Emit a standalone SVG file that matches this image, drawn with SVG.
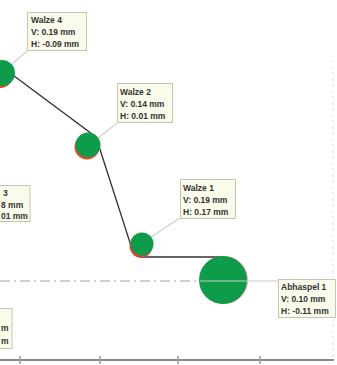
<svg xmlns="http://www.w3.org/2000/svg" width="337" height="365" viewBox="0 0 337 365">
<style>
.lbl{fill:#fbfbec;stroke:#c4c4b4;stroke-width:1}
.t{font-family:"Liberation Sans",Arial,sans-serif;font-size:8.5px;font-weight:bold;fill:#333}
.lead{stroke:#cfcfcf;stroke-width:1.2;fill:none}
.g{fill:#0e9c4a}
.r{fill:#e8432e}
</style>
<rect width="337" height="365" fill="#ffffff"/>
<g id="grid">
<line x1="333" y1="60" x2="333" y2="358" stroke="#e2e2e2" stroke-width="1" stroke-dasharray="3 3"/>
<line x1="0" y1="360" x2="334" y2="360" stroke="#8a8a8a" stroke-width="2"/>
<g stroke="#9a9a9a" stroke-width="1.5">
<line x1="20" y1="356" x2="20" y2="364"/>
<line x1="100" y1="356" x2="100" y2="364"/>
<line x1="178" y1="356" x2="178" y2="364"/>
<line x1="260" y1="356" x2="260" y2="364"/>
</g>
</g>
<g id="connectors">
<line class="lead" x1="10" y1="66" x2="28" y2="50"/>
<line class="lead" x1="97" y1="139" x2="117" y2="123"/>
<line class="lead" x1="148" y1="239" x2="180" y2="218"/>
<path d="M2,67 L96,137 L133,252 Q135,257 141,257 L222,257" fill="none" stroke="#333" stroke-width="1.3"/>
</g>
<g id="walze4">
<circle class="r" cx="0" cy="75" r="13"/>
<circle class="g" cx="2" cy="73" r="13"/>
<rect class="lbl" x="27.500" y="12.500" width="59" height="38"/>
<text class="t" x="31" y="23">Walze 4</text>
<text class="t" x="31" y="35">V: 0.19 mm</text>
<text class="t" x="31" y="47">H: -0.09 mm</text>
</g>
<g id="walze2">
<circle class="r" cx="87" cy="147" r="12.500"/>
<circle class="g" cx="88" cy="145" r="12.500"/>
<rect class="lbl" x="117.500" y="83.500" width="55" height="39"/>
<text class="t" x="120" y="95">Walze 2</text>
<text class="t" x="120" y="107">V: 0.14 mm</text>
<text class="t" x="120" y="119">H: 0.01 mm</text>
</g>
<g id="walze3">
<rect class="lbl" x="-40" y="185.500" width="70" height="36"/>
<text class="t" x="3" y="196">3</text>
<text class="t" x="1" y="208">8 mm</text>
<text class="t" x="1" y="219">01 mm</text>
</g>
<g id="walze1">
<circle class="r" cx="141" cy="246" r="11.500"/>
<circle class="g" cx="142" cy="244" r="11.500"/>
<rect class="lbl" x="180.500" y="179.500" width="55" height="39"/>
<text class="t" x="183" y="191">Walze 1</text>
<text class="t" x="183" y="203">V: 0.19 mm</text>
<text class="t" x="183" y="215">H: 0.17 mm</text>
</g>
<g id="abhaspel1">
<circle fill="#f2a0a0" cx="224" cy="280" r="24"/>
<circle class="g" cx="223" cy="280" r="24"/>
<line x1="0" y1="281" x2="200" y2="281" stroke="#a0a0a0" stroke-width="1" stroke-dasharray="10 4 2 4"/>
<line x1="200" y1="281" x2="278" y2="281" stroke="#c8c8c8" stroke-width="1"/>
<rect class="lbl" x="278.500" y="279.500" width="57" height="38"/>
<text class="t" x="281" y="290">Abhaspel 1</text>
<text class="t" x="281" y="302">V: 0.10 mm</text>
<text class="t" x="281" y="314">H: -0.11 mm</text>
</g>
<g id="walze0">
<rect class="lbl" x="-50" y="308.500" width="62" height="40"/>
<text class="t" x="1" y="331">m</text>
<text class="t" x="1" y="344">m</text>
</g>
</svg>
